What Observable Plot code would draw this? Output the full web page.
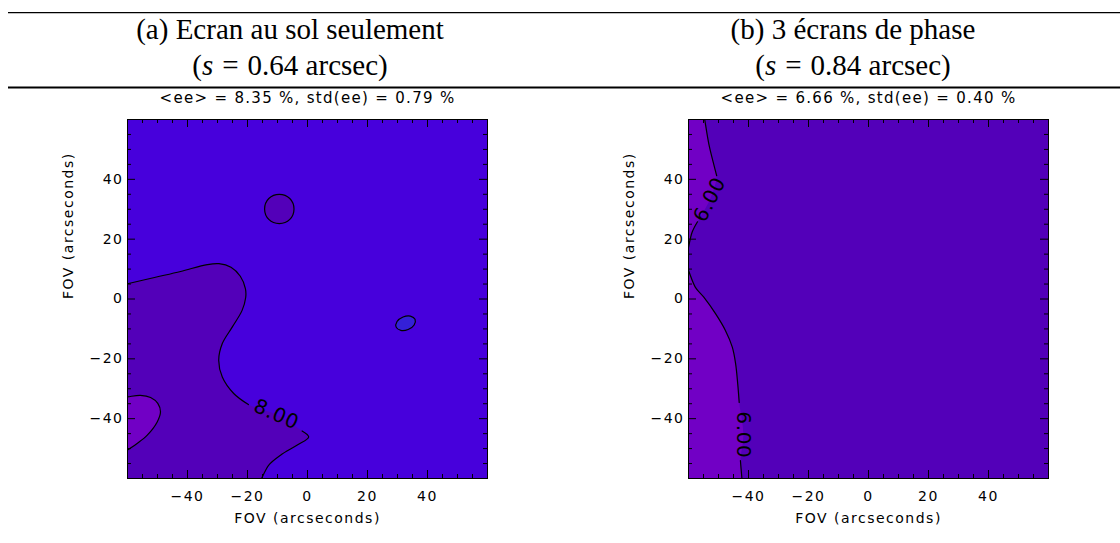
<!DOCTYPE html>
<html><head><meta charset="utf-8">
<script src="https://cdn.jsdelivr.net/npm/d3@7"></script>
<script src="https://cdn.jsdelivr.net/npm/@observablehq/plot@0.6"></script>
<style>
html,body{margin:0;padding:0;background:#fff;}
#root{position:relative;width:1120px;height:543px;overflow:hidden;background:#fff;}
.panel{position:absolute;top:90px;width:560px;height:453px;}
#header{position:absolute;left:0;top:0;}
</style></head>
<body><div id="root">
<div class="panel" id="pa" style="left:0px"></div>
<div class="panel" id="pb" style="left:561px"></div>
<svg id="header" width="1120" height="92"></svg>
</div>
<script>
// ---------- data ----------
const panelTitles = ["(a) Ecran au sol seulement", "(b) 3 écrans de phase"];
const seeingArcsec = ["0.64", "0.84"];
const eeMeanPct = ["8.35", "6.66"];
const eeStdPct = ["0.79", "0.40"];
const xTicks = [-40, -20, 0, 20, 40];
const yTicks = [-40, -20, 0, 20, 40];
const minorTicks = [-55, -50, -45, -35, -30, -25, -15, -10, -5, 5, 10, 15, 25, 30, 35, 45, 50, 55];
const axisLabel = "FOV (arcseconds)";

// panel (a): contour ee = 8.00 (before label / label / after label)
const a8Before = [[-60, 5.1], [-51, 7.2], [-42.3, 9.2], [-33.4, 11.5], [-29.5, 11.8], [-25.5, 10.6], [-22.4, 7.6], [-20.7, 3.5], [-20.6, 0.5], [-21.8, -3.8], [-25.1, -9.4], [-28.4, -14.9], [-29.6, -20.5], [-28.4, -26.1], [-24.6, -31.6], [-19.7, -35.3]];
const a8Label = [-10.4, -38.6];
const a8After = [[-1.8, -44.1], [0.4, -46.1], [-3.4, -48.8], [-9, -52.2], [-12.9, -55.5], [-15.3, -60]];
// panel (a): lower contour in the bottom-left corner
const a7 = [[-60, -32.7], [-55.7, -32.2], [-52.3, -32.9], [-49.9, -34.9], [-49, -37.7], [-50.1, -41.1], [-53.4, -45.5], [-56.8, -48.3], [-60, -50.5]];
// panel (a): small closed contours
const aLowLoop = [[-4.5, 30.1], [-5.9, 33.6], [-9.4, 35], [-12.9, 33.6], [-14.3, 30.1], [-12.9, 26.6], [-9.4, 25.2], [-5.9, 26.6]];
const aHighLoop = [[35.85, -6.8], [34.3, -5.7], [31.85, -6.0], [29.85, -7.5], [29.55, -9.4], [31.1, -10.5], [33.55, -10.2], [35.55, -8.7]];

// panel (b): contour ee = 6.00, upper branch
const b6TopBefore = [[-54.6, 60], [-53.2, 51.7], [-51.6, 45.1], [-50.6, 41.2]];
const b6TopLabel = [-52.9, 33.2];
const b6TopAfter = [[-57, 25.8], [-58.8, 22.3], [-60, 17.3]];
// panel (b): contour ee = 6.00, lower branch
const b6BotBefore = [[-60, 9.5], [-57.7, 3.9], [-54.9, 0.6], [-51, -4.9], [-47.7, -10.5], [-45.4, -16.1], [-44.3, -21.6], [-43.6, -28.3], [-43.1, -34.6]];
const b6BotLabel = [-41.7, -45.4];
const b6BotAfter = [[-42.7, -54], [-42.2, -60]];

const levelLabels = ["8.00", "6.00"];

// ---------- styles ----------
const C = {aBase: "#4700dc", dark: "#5300b9", light: "#7100c5", blue: "#3420d8"};

// ---------- helpers ----------
const FAR = 80;
function ext(a, b, d = 3) { const dx = a[0] - b[0], dy = a[1] - b[1], L = Math.hypot(dx, dy); return [a[0] + dx / L * d, a[1] + dy / L * d]; }
function proj(p) { return Math.abs(p[0]) >= Math.abs(p[1]) ? [Math.sign(p[0]) * FAR, p[1]] : [p[0], Math.sign(p[1]) * FAR]; }
function region(pts, corners) {
  const s = ext(pts[0], pts[1]), e = ext(pts[pts.length - 1], pts[pts.length - 2]);
  return [s, ...pts, e, proj(e), ...corners.map(c => [c[0] * FAR, c[1] * FAR]), proj(s)];
}
function headPiece(pts) { return [ext(pts[0], pts[1]), ...pts]; }
function tailPiece(pts) { return [...pts, ext(pts[pts.length - 1], pts[pts.length - 2])]; }
const X = d => d[0], Y = d => d[1];
const fmt = d => d < 0 ? "\u2212" + Math.abs(d) : String(d);

function panel(i, base, fills, loops, strokes, labels) {
  const W = 560, H = 453, mL = 127, mR = 73, mT = 29, mB = 65;
  const fw = W - mL - mR, fh = H - mT - mB;
  const title = `<ee> = ${eeMeanPct[i]} %, std(ee) = ${eeStdPct[i]} %`;
  const marks = [Plot.frame({fill: base, stroke: null})];
  for (const f of fills) marks.push(Plot.line(f.poly, {x: X, y: Y, fill: f.color, stroke: "none", curve: "catmull-rom", clip: true}));
  for (const l of loops) marks.push(Plot.line(l.pts, {x: X, y: Y, fill: l.color, stroke: "black", strokeWidth: 1.2, curve: "catmull-rom-closed", clip: true}));
  for (const s of strokes) marks.push(Plot.line(s, {x: X, y: Y, stroke: "black", strokeWidth: 1.2, curve: "catmull-rom", clip: true}));
  for (const lb of labels) marks.push(Plot.text([lb.pos], {x: X, y: Y, text: () => lb.text, rotate: lb.angle, fontSize: 20, fill: "black"}));
  // inward ticks on all four sides
  marks.push(
    Plot.tickX(minorTicks, {x: d => d, insetTop: fh - 4, stroke: "black"}),
    Plot.tickX(minorTicks, {x: d => d, insetBottom: fh - 4, stroke: "black"}),
    Plot.tickX(xTicks, {x: d => d, insetTop: fh - 8, stroke: "black"}),
    Plot.tickX(xTicks, {x: d => d, insetBottom: fh - 8, stroke: "black"}),
    Plot.tickY(minorTicks, {y: d => d, insetRight: fw - 4, stroke: "black"}),
    Plot.tickY(minorTicks, {y: d => d, insetLeft: fw - 4, stroke: "black"}),
    Plot.tickY(yTicks, {y: d => d, insetRight: fw - 8, stroke: "black"}),
    Plot.tickY(yTicks, {y: d => d, insetLeft: fw - 8, stroke: "black"}),
    Plot.frame({stroke: "black", strokeWidth: 1}),
    Plot.text(xTicks, {x: d => d, text: fmt, frameAnchor: "bottom", dy: 18.5, lineAnchor: "middle", fontSize: 14}),
    Plot.text(yTicks, {y: d => d, text: fmt, frameAnchor: "left", dx: -4, textAnchor: "end", fontSize: 14}),
    Plot.text([axisLabel], {frameAnchor: "bottom", dy: 40.5, lineAnchor: "middle", fontSize: 14}),
    Plot.text([axisLabel], {frameAnchor: "left", dx: -59, rotate: -90, lineAnchor: "middle", fontSize: 14}),
    Plot.text([title], {frameAnchor: "top", dy: -21, lineAnchor: "middle", fontSize: 15})
  );
  const svg = Plot.plot({
    width: W, height: H, marginLeft: mL, marginRight: mR, marginTop: mT, marginBottom: mB,
    x: {domain: [-60, 60], axis: null}, y: {domain: [-60, 60], axis: null},
    style: "font-family: 'DejaVu Sans', sans-serif; color: black; background: transparent;",
    marks
  });
  d3.select(svg).selectAll("text").each(function() {
    const t = this.textContent;
    const ls = t === title ? 1.3 : levelLabels.includes(t) ? 0.6 : 1.5;
    this.setAttribute("letter-spacing", ls + "px");
  });
  return svg;
}

// panel (a)
document.getElementById("pa").append(panel(0, C.aBase,
  [
    {poly: region([...a8Before, a8Label, ...a8After], [[-1, -1]]), color: C.dark},
    {poly: region(a7, []), color: C.light}
  ],
  [{pts: aLowLoop, color: C.dark}, {pts: aHighLoop, color: C.blue}],
  [headPiece(a8Before), tailPiece(a8After), tailPiece(headPiece(a7))],
  [{pos: a8Label, text: levelLabels[0], angle: 24}]
));

// panel (b)
document.getElementById("pb").append(panel(1, C.dark,
  [
    {poly: region([...b6TopBefore, b6TopLabel, ...b6TopAfter], [[-1, 1]]), color: C.light},
    {poly: region([...b6BotBefore, b6BotLabel, ...b6BotAfter], [[-1, -1]]), color: C.light}
  ],
  [],
  [headPiece(b6TopBefore), tailPiece(b6TopAfter), headPiece(b6BotBefore), tailPiece(b6BotAfter)],
  [{pos: b6TopLabel, text: levelLabels[1], angle: -63}, {pos: b6BotLabel, text: levelLabels[1], angle: 90}]
));

// header (table-like caption above the panels)
const head = d3.select("#header");
head.append("line").attr("x1", 8).attr("x2", 1120).attr("y1", 12.7).attr("y2", 12.7).attr("stroke", "black").attr("stroke-width", 1.3);
head.append("line").attr("x1", 8).attr("x2", 1120).attr("y1", 87.5).attr("y2", 87.5).attr("stroke", "black").attr("stroke-width", 2);
const centers = [290, 853];
panelTitles.forEach((t, i) => {
  head.append("text").attr("x", centers[i]).attr("y", 38.5).attr("text-anchor", "middle")
    .attr("font-family", "'Liberation Serif', serif").attr("font-size", 29).text(t);
  const l2 = head.append("text").attr("x", centers[i]).attr("y", 74.5).attr("text-anchor", "middle")
    .attr("font-family", "'Liberation Serif', serif").attr("font-size", 29).attr("xml:space", "preserve");
  l2.append("tspan").text("(");
  l2.append("tspan").attr("font-style", "italic").text("s");
  l2.append("tspan").attr("dx", 9).text("=");
  l2.append("tspan").attr("dx", 9).text(seeingArcsec[i] + " arcsec)");
});
</script>
</body></html>
